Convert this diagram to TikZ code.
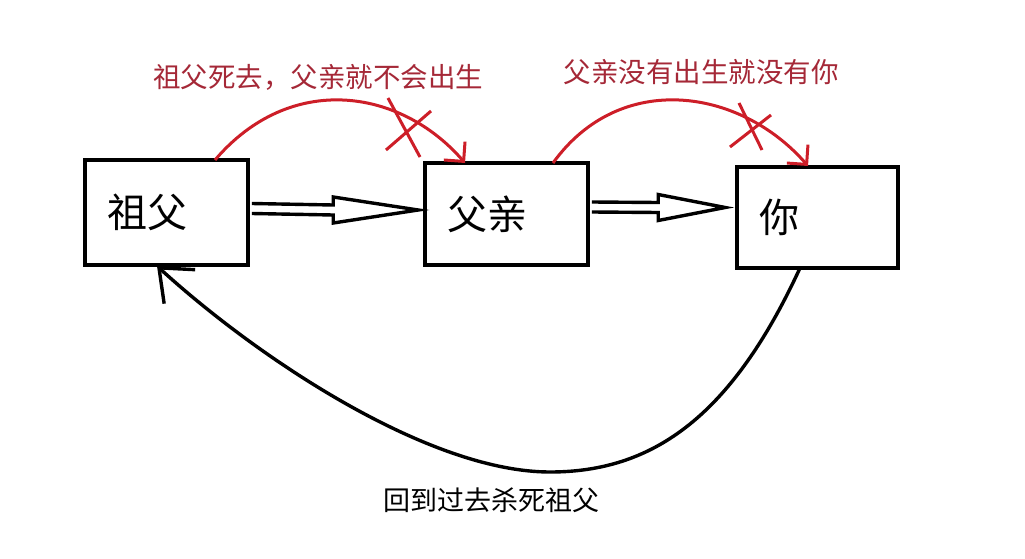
\documentclass[tikz,border=0pt]{standalone}
\usepackage{fontspec}
\newfontfamily\cjk{Noto Sans CJK SC}
\usetikzlibrary{arrows.meta,calc}
\definecolor{arcred}{RGB}{205,30,40}
\definecolor{txtred}{RGB}{165,40,55}
\tikzset{
  box/.style={draw=black, line width=3.6pt, align=left, inner xsep=22pt, font=\cjk\fontsize{40}{44}\selectfont},
  redarc/.style={draw=arcred, line width=3pt, -{Straight Barb[length=14pt,width=28pt,line width=3pt]}},
  cross/.style={draw=arcred, line width=3pt},
  redtext/.style={text=txtred, font=\cjk\fontsize{27.5}{30}\selectfont, inner sep=0pt},
  blacktext/.style={text=black, font=\cjk\fontsize{27}{30}\selectfont, inner sep=0pt},
  hollow/.style={draw=black, line width=3.4pt, fill=white, line join=miter},
  backcurve/.style={draw=black, line width=3.4pt, -{Straight Barb[length=28pt,width=46pt,line width=3.4pt]}}
}
\begin{document}
\begin{tikzpicture}[x=1pt,y=-1pt]
\useasboundingbox[fill=white] (0,0) rectangle (1025,559);
% boxes
\node[box, text width=119pt, minimum height=105pt] (zf) at (166.5,212.5) {祖父};
\node[box, text width=119pt, minimum height=102pt] (fq) at (506.5,214) {父亲};
\node[box, text width=117pt, minimum height=101pt] (ni) at (817.5,217.5) {你};
% hollow arrows
\coordinate (s1) at ($(zf.east)+(2,-4)$);
\coordinate (t1) at ($(fq.west)+(-5,-4)$);
\draw[hollow] (s1) ++(0,-5) -- ($(t1)+(-85,-5)$) -- ($(t1)+(-85,-13)$) -- (t1) -- ($(t1)+(-85,13)$) -- ($(t1)+(-85,5)$) -- ($(s1)+(0,5)$);
\coordinate (s2) at ($(fq.east)+(2,-7)$);
\coordinate (t2) at ($(ni.west)+(-10,-10)$);
\draw[hollow] (s2) ++(0,-5) -- ($(t2)+(-67,-5)$) -- ($(t2)+(-67,-13)$) -- (t2) -- ($(t2)+(-67,13)$) -- ($(t2)+(-67,5)$) -- ($(s2)+(0,5)$);
% red arcs
\coordinate (a1s) at (215,160);
\coordinate (a1e) at (465,163);
\draw[redarc] (a1s) .. controls (290,72) and (400,88) .. (a1e);
\coordinate (a2s) at (553,163);
\coordinate (a2e) at (808,166);
\draw[redarc] (a2s) .. controls (620,70) and (740,88) .. (a2e);
% crosses
\coordinate (x1a) at (388,98); \coordinate (x1b) at (420,157);
\coordinate (x1c) at (431,111); \coordinate (x1d) at (386,150);
\draw[cross] (x1a) -- (x1b);
\draw[cross] (x1c) -- (x1d);
\coordinate (x2a) at (739,103); \coordinate (x2b) at (762,150);
\coordinate (x2c) at (771,115); \coordinate (x2d) at (730,147);
\draw[cross] (x2a) -- (x2b);
\draw[cross] (x2c) -- (x2d);
% red labels
\node[redtext] (l1) at (318,77) {祖父死去，父亲就不会出生};
\node[redtext] (l2) at (701,72) {父亲没有出生就没有你};
% back curve
\coordinate (bs) at (800,268);
\coordinate (bm) at (550,472);
\coordinate (be) at (157,266);
\draw[backcurve] (bs) .. controls (730,420) and (650,472) .. (bm) .. controls (430,472) and (260,360) .. (be);
\node[blacktext] (l3) at (491,500) {回到过去杀死祖父};
\end{tikzpicture}
\end{document}
